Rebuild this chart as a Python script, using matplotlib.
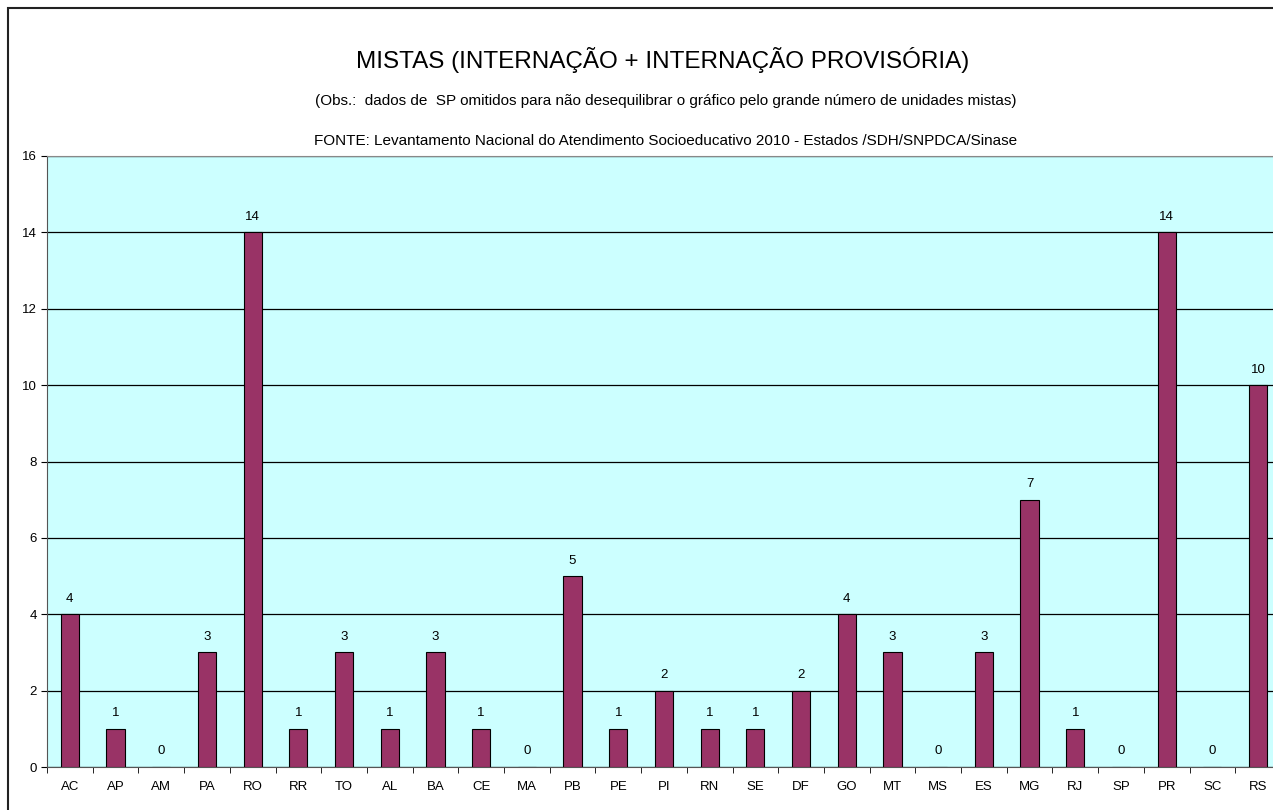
import matplotlib.pyplot as plt
import numpy as np
from matplotlib.patches import Rectangle

estados = ['AC', 'AP', 'AM', 'PA', 'RO', 'RR', 'TO', 'AL', 'BA', 'CE', 'MA', 'PB', 'PE', 'PI',
           'RN', 'SE', 'DF', 'GO', 'MT', 'MS', 'ES', 'MG', 'RJ', 'SP', 'PR', 'SC', 'RS']
unidades = [4, 1, 0, 3, 14, 1, 3, 1, 3, 1, 0, 5, 1, 2, 1, 1, 2, 4, 3, 0, 3, 7, 1, 0, 14, 0, 10]

plt.rcParams['font.family'] = ['Liberation Sans', 'DejaVu Sans']

fig = plt.figure(figsize=(12.73, 8.10), dpi=100)

# moldura externa
fig.patches.append(Rectangle((8 / 1273, -0.1), 1.2, (810 - 8) / 810 + 0.1,
                             transform=fig.transFigure, fill=False,
                             edgecolor='#222222', linewidth=1.5))

ax = fig.add_axes([47 / 1273, 43 / 810, 27 * 45.7 / 1273, 611 / 810])
ax.set_facecolor('#CCFFFF')

x = np.arange(len(estados))
ax.bar(x, unidades, width=0.4, color='#993366', edgecolor='black', linewidth=0.8, zorder=3)

for xi, v in zip(x, unidades):
    ax.text(xi, v + 0.25, str(v), ha='center', va='bottom', fontsize=9.5, zorder=4)

ax.set_xlim(-0.5, len(estados) - 0.5)
ax.set_ylim(0, 16)
ax.set_yticks(np.arange(0, 17, 2))
ax.yaxis.grid(True, color='black', linewidth=0.9)
ax.set_axisbelow(True)

ax.set_xticks(x)
ax.set_xticklabels(estados, fontsize=9.5)
ax.set_xticks(np.arange(-0.5, len(estados), 1), minor=True)
ax.tick_params(axis='x', which='major', length=0, pad=10)
ax.tick_params(axis='x', which='minor', length=4, direction='out')
ax.tick_params(axis='y', labelsize=9.5, length=4)

for s in ['top', 'right']:
    ax.spines[s].set_color('#888888')
ax.spines['left'].set_color('#555555')
ax.spines['bottom'].set_color('#555555')

fig.text(663 / 1273, 1 - 60 / 810, 'MISTAS (INTERNAÇÃO + INTERNAÇÃO PROVISÓRIA)',
         ha='center', va='center', fontsize=17.5)
fig.text(666 / 1273, 1 - 101 / 810,
         '(Obs.:  dados de  SP omitidos para não desequilibrar o gráfico pelo grande número de unidades mistas)',
         ha='center', va='center', fontsize=11)
fig.text(666 / 1273, 1 - 141 / 810,
         'FONTE: Levantamento Nacional do Atendimento Socioeducativo 2010 - Estados /SDH/SNPDCA/Sinase',
         ha='center', va='center', fontsize=11)

plt.savefig('out.png', dpi=100)
